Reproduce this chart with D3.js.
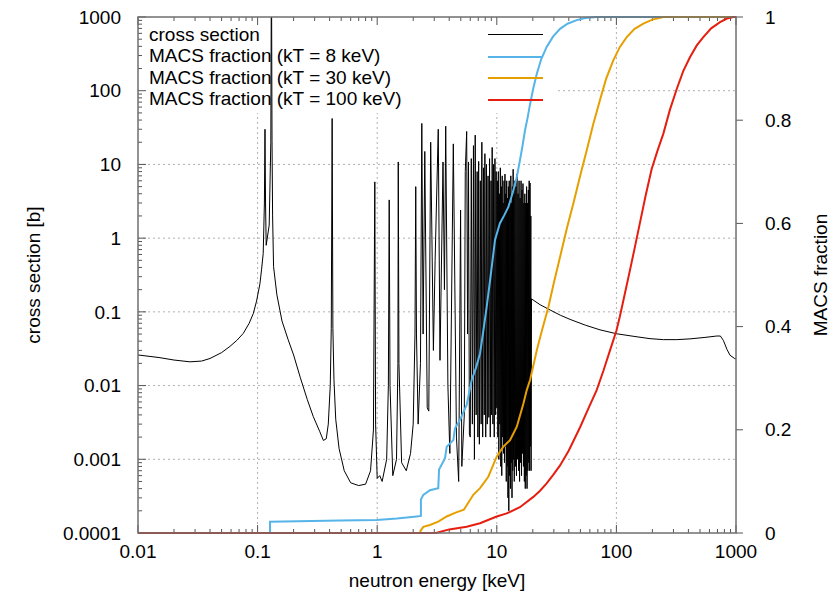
<!DOCTYPE html>
<html>
<head>
<meta charset="utf-8">
<script src="https://cdn.jsdelivr.net/npm/d3@7"></script>
<style>
  body { margin: 0; background: #fff; }
  text { font-family: "Liberation Sans", Arial, sans-serif; font-size: 19px; fill: #000; }
</style>
</head>
<body>
<div id="chart"></div>
<script>
// cross section [b] vs neutron energy [keV]
var xsEnergy = [0.01, 0.015, 0.02, 0.0272, 0.034, 0.04, 0.05, 0.0587, 0.067, 0.0759, 0.085, 0.0921, 0.098, 0.1046, 0.108, 0.1114, 0.114, 0.1153, 0.1165, 0.118,
  0.125, 0.129, 0.1305, 0.132, 0.1335, 0.136, 0.145, 0.16, 0.18, 0.2, 0.227, 0.26, 0.292, 0.33, 0.355, 0.375, 0.39, 0.405, 0.413, 0.42, 0.426, 0.435, 0.45,
  0.48, 0.53, 0.6, 0.7, 0.8, 0.88, 0.93, 0.955, 0.97, 1.0, 1.05, 1.1, 1.2, 1.24, 1.26, 1.28, 1.35, 1.45, 1.49, 1.5, 1.52, 1.6, 1.75, 1.9, 2.0, 2.07, 2.1,
  2.13, 2.2, 2.3, 2.36, 2.42, 2.5, 2.62, 2.7, 2.8, 2.95, 3.05, 3.24, 3.35, 3.55, 3.65, 3.74, 3.9, 4.05, 4.33, 4.6, 4.8, 4.98, 5.1, 5.35, 5.45, 5.6, 5.7,
  5.8, 5.9,
  6.0, 6.12, 6.25, 6.38, 6.5, 6.6, 6.72, 6.85, 6.95, 7.05, 7.15, 7.28, 7.4, 7.5, 7.62, 7.75, 7.85, 7.95, 8.08, 8.2, 8.32, 8.45, 8.58, 8.7, 8.82, 8.95,
  9.05, 9.15, 9.28, 9.4, 9.52, 9.65, 9.78, 9.88,
  10.0, 10.1, 10.2, 10.3, 10.4, 10.5, 10.6, 10.7, 10.8, 10.9, 11.0, 11.1, 11.2, 11.3, 11.4, 11.5, 11.6, 11.7, 11.8, 11.9, 12.0, 12.1, 12.2, 12.3, 12.4,
  12.5, 12.6, 12.7, 12.8, 12.9, 13.0, 13.1, 13.2, 13.3, 13.4, 13.5, 13.6, 13.7, 13.8, 13.9, 14.0, 14.15, 14.3, 14.45, 14.6, 14.75, 14.9, 15.05, 15.2,
  15.35, 15.5, 15.65, 15.8, 15.95, 16.1, 16.25, 16.4, 16.55, 16.7, 16.85, 17.0, 17.15, 17.3, 17.45, 17.6, 17.75, 17.9, 18.05, 18.2, 18.35, 18.5, 18.65,
  18.8, 18.95, 19.1, 19.25, 19.35, 19.5,
  23, 27.9, 34, 41, 55, 73, 100, 140, 191, 247, 320, 412, 550, 690, 740, 784, 840, 891, 977, 1000];
var xsValue = [0.026, 0.024, 0.0222, 0.021, 0.0215, 0.0233, 0.028, 0.034, 0.041, 0.051, 0.07, 0.095, 0.14, 0.24, 0.38, 0.62, 3, 30, 3, 0.8,
  1.5, 20, 8000, 21, 2, 0.41, 0.17, 0.075, 0.042, 0.026, 0.013, 0.0065, 0.0038, 0.0024, 0.0018, 0.0019, 0.003, 0.01, 0.06, 42, 0.06, 0.012, 0.0035,
  0.0014, 0.0007, 0.00048, 0.00044, 0.00046, 0.0007, 0.0025, 5.8, 0.003, 0.00055, 0.0006, 0.0005, 0.001, 0.01, 3.3, 0.01, 0.0006, 0.001, 0.02, 10.8, 0.02, 0.0009, 0.0007, 0.0012, 0.003, 0.05, 5.0,
  0.05, 0.003, 0.02, 36, 0.05, 15, 0.005, 0.0045, 20, 0.03, 0.5, 30, 0.022, 10.8, 0.2, 33, 0.01, 0.0012, 19, 0.002, 0.0005, 2.4, 0.0008, 0.004, 8, 28, 0.05,
  10.8, 0.0022,
  0.002, 12, 0.003, 18, 0.001, 25, 0.004, 8, 0.002, 11, 0.0016, 6, 0.003, 20, 0.002, 9, 0.004, 14, 0.002, 10, 0.003, 7, 0.0037, 12, 0.002, 6,
  0.004, 17, 0.003, 10, 0.002, 12, 0.004, 8,
  0.005, 6, 0.002, 8, 0.001, 4, 0.003, 9, 0.0008, 5, 0.0006, 7, 0.002, 3, 0.0012, 6, 0.0009, 7.4, 0.0015, 4, 0.0005, 6, 0.0008, 3.5, 0.0003,
  5, 0.0002, 6, 0.0006, 4, 0.0004, 7, 0.0009, 3, 0.0003, 5, 0.0007, 8.6, 0.001, 4, 0.0005, 6, 0.0008, 5, 0.0006, 7.4, 0.001, 4, 0.0007,
  6, 0.0005, 3.5, 0.0009, 6, 0.0006, 4.5, 0.0012, 5.5, 0.0008, 3, 0.0005, 4, 0.0004, 3, 0.0006, 5, 0.0004, 3, 0.0007, 4.5, 0.0009, 6,
  0.0007, 5.6, 0.0015, 2, 0.0007, 0.15,
  0.125, 0.106, 0.09, 0.079, 0.066, 0.057, 0.0505, 0.0465, 0.0433, 0.042, 0.042, 0.043, 0.045, 0.047, 0.047, 0.041, 0.031, 0.0258, 0.0232, 0.023];

// MACS fraction, kT = 8 keV
var macs8Energy = [0.01, 0.127, 0.127, 0.49, 0.99, 1.46, 2.14, 2.32, 2.32, 2.43, 2.76, 3.24, 3.29, 3.69, 3.81, 4.33, 4.47, 4.92, 5.6, 6.17,
  6.7, 7.24, 7.7, 8.24, 8.9, 9.66, 10.6, 11.5, 12.5, 13.6, 14.7, 15.6, 16.4, 17.2, 18.1, 19.0, 20.2, 21.6, 23.5, 26.1, 29.5, 33.8, 39, 46.6,
  55, 68.4, 1000];
var macs8Frac = [0, 0, 0.022, 0.024, 0.025, 0.028, 0.032, 0.033, 0.065, 0.074, 0.083, 0.087, 0.123, 0.145, 0.167, 0.18, 0.203, 0.219, 0.248, 0.297,
  0.32, 0.348, 0.39, 0.439, 0.5, 0.568, 0.6, 0.615, 0.632, 0.66, 0.69, 0.722, 0.75, 0.78, 0.805, 0.832, 0.862, 0.89, 0.918, 0.942, 0.962, 0.977, 0.987, 0.994,
  0.998, 1.0, 1.0];

// MACS fraction, kT = 30 keV
var macs30Energy = [0.01, 2.3, 2.3, 2.43, 2.76, 3.24, 3.81, 4.47, 5.3, 6.36, 7.24, 8.49, 9.98, 11.3, 12.9, 14.7, 16.7, 17.8, 19.0, 21.6,
  24, 27.0, 30, 33.8, 38.5, 43.6, 49.5, 56.5, 64, 72.9, 82, 94.2, 107, 122, 142, 168, 200, 247, 1000];
var macs30Frac = [0, 0, 0.004, 0.012, 0.0155, 0.022, 0.032, 0.039, 0.045, 0.074, 0.087, 0.109, 0.148, 0.167, 0.18, 0.206, 0.251, 0.277, 0.297, 0.354,
  0.395, 0.438, 0.485, 0.535, 0.59, 0.638, 0.69, 0.742, 0.792, 0.839, 0.88, 0.916, 0.942, 0.961, 0.977, 0.987, 0.995, 1.0, 1.0];

// MACS fraction, kT = 100 keV
var macs100Energy = [0.01, 3.1, 4.0, 5.6, 7.24, 9.98, 12.1, 15.6, 20.2, 23.0, 26.1, 29.5, 33.8, 40, 49.7, 58, 68.4, 78, 88.4, 100, 107, 118, 130,
  143, 157, 176, 197, 220, 247, 280, 319, 362, 412, 470, 533, 620, 735, 840, 949, 1000];
var macs100Frac = [0, 0, 0.007, 0.012, 0.019, 0.032, 0.038, 0.05, 0.07, 0.082, 0.096, 0.112, 0.131, 0.16, 0.205, 0.24, 0.277, 0.315, 0.354, 0.392, 0.42, 0.465, 0.51,
  0.555, 0.6, 0.655, 0.705, 0.74, 0.774, 0.82, 0.86, 0.895, 0.922, 0.945, 0.961, 0.978, 0.99, 0.997, 1.0, 1.0];

var xMajor = [0.01, 0.1, 1, 10, 100, 1000];
var xLabels = ['0.01', '0.1', '1', '10', '100', '1000'];
var yMajor = [0.0001, 0.001, 0.01, 0.1, 1, 10, 100, 1000];
var yLabels = ['0.0001', '0.001', '0.01', '0.1', '1', '10', '100', '1000'];
var y2Major = [0, 0.2, 0.4, 0.6, 0.8, 1];
var y2Labels = ['0', '0.2', '0.4', '0.6', '0.8', '1'];

var legendNames = ['cross section', 'MACS fraction (kT = 8 keV)', 'MACS fraction (kT = 30 keV)', 'MACS fraction (kT = 100 keV)'];
var colors = ['#000000', '#56b4e9', '#e69f00', '#e51e10'];

var width = 840, height = 598
var pLeft = 138, pRight = 736, pTop = 17, pBottom = 533

var svg = d3.select('#chart').append('svg').attr('width', width).attr('height', height)

var x = d3.scaleLog().domain([0.01, 1000]).range([pLeft, pRight])
var y = d3.scaleLog().domain([0.0001, 1000]).range([pBottom, pTop])
var y2 = d3.scaleLinear().domain([0, 1]).range([pBottom, pTop])

var xMinor = x.ticks().filter(function(d) { return xMajor.indexOf(d) < 0 })
var yMinor = y.ticks().filter(function(d) { return yMajor.indexOf(d) < 0 })

// grid
var grid = svg.append('g').attr('stroke', '#b0b0b0').attr('stroke-width', 1).attr('stroke-dasharray', '2,3')
xMajor.slice(1, -1).forEach(function(d) {
  grid.append('line').attr('x1', x(d)).attr('x2', x(d)).attr('y1', pTop).attr('y2', pBottom)
})
yMajor.slice(1, -1).forEach(function(d) {
  grid.append('line').attr('x1', pLeft).attr('x2', pRight).attr('y1', y(d)).attr('y2', y(d))
})

// legend background hides the grid
svg.append('rect').attr('x', pLeft + 1).attr('y', pTop + 1).attr('width', 416).attr('height', 95).attr('fill', '#fff')

// ticks
var ticks = svg.append('g').attr('stroke', '#555').attr('stroke-width', 1)
xMajor.forEach(function(d) {
  ticks.append('line').attr('x1', x(d)).attr('x2', x(d)).attr('y1', pBottom).attr('y2', pBottom - 8)
  ticks.append('line').attr('x1', x(d)).attr('x2', x(d)).attr('y1', pTop).attr('y2', pTop + 8)
})
xMinor.forEach(function(d) {
  ticks.append('line').attr('x1', x(d)).attr('x2', x(d)).attr('y1', pBottom).attr('y2', pBottom - 4)
  ticks.append('line').attr('x1', x(d)).attr('x2', x(d)).attr('y1', pTop).attr('y2', pTop + 4)
})
yMajor.forEach(function(d) {
  ticks.append('line').attr('x1', pLeft).attr('x2', pLeft + 8).attr('y1', y(d)).attr('y2', y(d))
})
yMinor.forEach(function(d) {
  ticks.append('line').attr('x1', pLeft).attr('x2', pLeft + 4).attr('y1', y(d)).attr('y2', y(d))
})
y2Major.forEach(function(d) {
  ticks.append('line').attr('x1', pRight).attr('x2', pRight + 7).attr('y1', y2(d)).attr('y2', y2(d))
})

svg.append('clipPath').attr('id', 'plotclip').append('rect')
  .attr('x', pLeft).attr('y', pTop).attr('width', pRight - pLeft).attr('height', pBottom - pTop)

// cross section
var xsData = xsEnergy.map(function(e, i) { return [e, xsValue[i]] })
svg.append('path').datum(xsData)
  .attr('clip-path', 'url(#plotclip)')
  .attr('fill', 'none').attr('stroke', colors[0]).attr('stroke-width', 1)
  .attr('d', d3.line().x(function(d) { return x(d[0]) }).y(function(d) { return y(d[1]) }))

// MACS fractions
var macsSets = [[macs8Energy, macs8Frac], [macs30Energy, macs30Frac], [macs100Energy, macs100Frac]]
macsSets.forEach(function(s, idx) {
  var pts = s[0].map(function(e, i) { return [e, s[1][i]] })
  svg.append('path').datum(pts)
    .attr('fill', 'none').attr('stroke', colors[idx + 1]).attr('stroke-width', 2)
    .attr('d', d3.line().x(function(d) { return x(d[0]) }).y(function(d) { return y2(d[1]) }))
})

// border
svg.append('rect').attr('x', pLeft).attr('y', pTop).attr('width', pRight - pLeft).attr('height', pBottom - pTop)
  .attr('fill', 'none').attr('stroke', '#6f6f6f').attr('stroke-width', 1.5)

// legend
legendNames.forEach(function(name, idx) {
  var ly = 34 + idx * 21.5
  svg.append('text').attr('x', 149).attr('y', ly).attr('dy', '0.35em').text(name)
  var lineY = idx == 0 ? 34.5 : Math.round(ly + 1)
  svg.append('line').attr('x1', 488).attr('x2', 543).attr('y1', lineY).attr('y2', lineY)
    .attr('stroke', colors[idx]).attr('stroke-width', idx == 0 ? 1 : 2)
})

// tick labels
xMajor.forEach(function(d, i) {
  svg.append('text').attr('x', x(d)).attr('y', 551).attr('dy', '0.35em').attr('text-anchor', 'middle').text(xLabels[i])
})
yMajor.forEach(function(d, i) {
  svg.append('text').attr('x', 121).attr('y', y(d)).attr('dy', '0.35em').attr('text-anchor', 'end').text(yLabels[i])
})
y2Major.forEach(function(d, i) {
  svg.append('text').attr('x', 765).attr('y', y2(d)).attr('dy', '0.35em').text(y2Labels[i])
})

// axis titles
svg.append('text').attr('x', 437).attr('y', 580).attr('text-anchor', 'middle').attr('dy', '0.35em').text('neutron energy [keV]')
svg.append('text').attr('transform', 'translate(33,275) rotate(-90)').attr('text-anchor', 'middle').attr('dy', '0.35em').text('cross section [b]')
svg.append('text').attr('transform', 'translate(820,275) rotate(-90)').attr('text-anchor', 'middle').attr('dy', '0.35em').text('MACS fraction')
</script>
</body>
</html>
